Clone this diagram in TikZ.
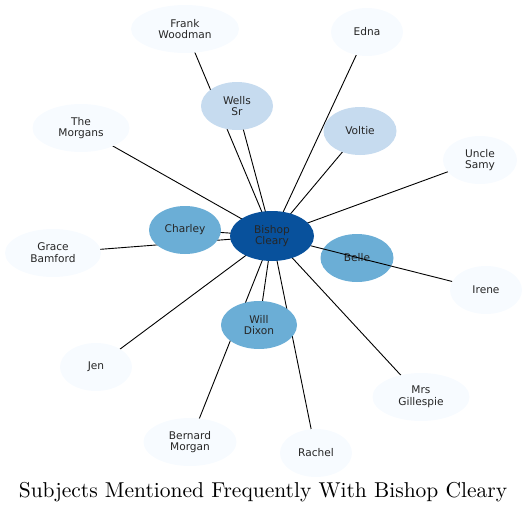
\documentclass[tikz,border=0pt]{standalone}
\usepackage{fontspec}
\newfontfamily\lbl{DejaVu Sans}
\newfontfamily\ttl{lmroman10-regular.otf}
\usetikzlibrary{shapes.geometric}
\pgfdeclarelayer{background}
\pgfsetlayers{background,main}
\definecolor{c0}{HTML}{F7FBFF}
\definecolor{c1}{HTML}{C6DBEF}
\definecolor{c2}{HTML}{6BAED6}
\definecolor{c3}{HTML}{08519C}
\tikzset{
  ent/.style={ellipse, inner sep=0pt, minimum width=72pt, minimum height=48pt, align=center,
    font=\lbl\fontsize{10.6}{11.8}\selectfont, text=black!85},
  lv0/.style={ent, fill=c0},
  lv1/.style={ent, fill=c1},
  lv2/.style={ent, fill=c2},
  lv3/.style={ent, fill=c3, minimum width=84pt, minimum height=50pt},
  link/.style={draw=black, line width=0.9pt},
}
\begin{document}
\begin{tikzpicture}[x=1pt,y=-1pt]
\useasboundingbox (0,0) rectangle (528,514);
\node[lv3] (bc) at (272,236) {Bishop\\Cleary};
\node[lv0, minimum width=108pt] (fw) at (185,29) {Frank\\Woodman};
\node[lv0] (ed) at (367,32) {Edna};
\node[lv1] (ws) at (237,106) {Wells\\Sr};
\node[lv0, minimum width=97pt] (tm) at (81,128) {The\\Morgans};
\node[lv1, minimum width=73pt] (vo) at (360,131) {Voltie};
\node[lv0, minimum width=74pt] (us) at (480,160) {Uncle\\Samy};
\node[lv2] (ch) at (185,230) {Charley};
\node[lv2, minimum width=73pt] (be) at (357,258) {Belle};
\node[lv0, minimum width=96pt] (gb) at (53,253) {Grace\\Bamford};
\node[lv0] (ir) at (486,290) {Irene};
\node[lv2, minimum width=76pt] (wd) at (259,325) {Will\\Dixon};
\node[lv0] (je) at (96,367) {Jen};
\node[lv0, minimum width=97pt] (mg) at (421,397) {Mrs\\Gillespie};
\node[lv0, minimum width=93pt] (bm) at (190,442) {Bernard\\Morgan};
\node[lv0] (ra) at (316,453) {Rachel};
\node[font=\ttl\fontsize{21.5}{26}\selectfont] (title) at (263,492) {Subjects Mentioned Frequently With Bishop Cleary};
\begin{pgfonlayer}{background}
\foreach \n in {fw,ed,ws,tm,vo,us,ch,gb,wd,je,mg,bm,ra}
  \draw[link] (bc.center) -- (\n.center);
\end{pgfonlayer}
\draw[link] (bc) -- (ir);
\end{tikzpicture}
\end{document}
